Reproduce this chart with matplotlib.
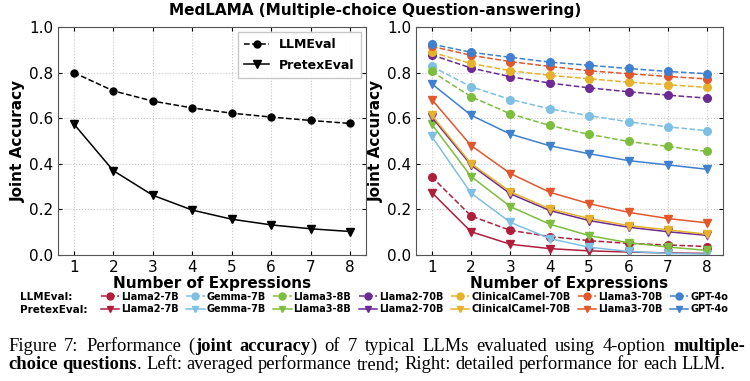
import numpy as np
import matplotlib.pyplot as plt
from matplotlib.lines import Line2D

# ---- data ----
n_expr = [1, 2, 3, 4, 5, 6, 7, 8]

avg_llmeval = [0.80, 0.72, 0.675, 0.645, 0.622, 0.605, 0.590, 0.577]
avg_pretex = [0.575, 0.370, 0.262, 0.197, 0.157, 0.132, 0.115, 0.103]

models = ["Llama2-7B", "Gemma-7B", "Llama3-8B", "Llama2-70B",
          "ClinicalCamel-70B", "Llama3-70B", "GPT-4o"]
colors = ["#B01E3C", "#7DC0E3", "#7DBE3E", "#6C2A92",
          "#E6B12B", "#E2572B", "#3F80CF"]

llmeval = {
    "Llama2-7B":         [0.343, 0.171, 0.108, 0.081, 0.063, 0.051, 0.044, 0.037],
    "Gemma-7B":          [0.827, 0.738, 0.682, 0.641, 0.611, 0.584, 0.562, 0.545],
    "Llama3-8B":         [0.805, 0.694, 0.619, 0.568, 0.529, 0.498, 0.476, 0.454],
    "Llama2-70B":        [0.878, 0.820, 0.782, 0.754, 0.733, 0.716, 0.701, 0.688],
    "ClinicalCamel-70B": [0.889, 0.840, 0.808, 0.788, 0.773, 0.758, 0.747, 0.735],
    "Llama3-70B":        [0.915, 0.876, 0.848, 0.827, 0.808, 0.795, 0.783, 0.772],
    "GPT-4o":            [0.925, 0.889, 0.867, 0.846, 0.832, 0.818, 0.805, 0.795],
}
pretexeval = {
    "Llama2-7B":         [0.274, 0.102, 0.047, 0.028, 0.018, 0.013, 0.009, 0.007],
    "Gemma-7B":          [0.520, 0.271, 0.143, 0.072, 0.034, 0.016, 0.007, 0.004],
    "Llama3-8B":         [0.574, 0.344, 0.212, 0.135, 0.085, 0.054, 0.035, 0.020],
    "Llama2-70B":        [0.605, 0.394, 0.268, 0.195, 0.151, 0.122, 0.102, 0.086],
    "ClinicalCamel-70B": [0.613, 0.401, 0.277, 0.202, 0.160, 0.129, 0.110, 0.091],
    "Llama3-70B":        [0.682, 0.480, 0.357, 0.275, 0.225, 0.187, 0.160, 0.141],
    "GPT-4o":            [0.751, 0.613, 0.530, 0.479, 0.444, 0.414, 0.395, 0.376],
}

# ---- figure ----
W, H = 750, 381
fig = plt.figure(figsize=(W / 100, H / 100), dpi=100)
ax1 = fig.add_axes([58 / W, 1 - 255 / H, 308 / W, 228 / H])
ax2 = fig.add_axes([416 / W, 1 - 255 / H, 307 / W, 228 / H])

ax1.plot(n_expr, avg_llmeval, "--o", color="black", lw=1.1, ms=5, label="LLMEval")
ax1.plot(n_expr, avg_pretex, "-v", color="black", lw=1.1, ms=5.5, label="PretexEval")
ax1.legend(loc="upper right", prop={"weight": "bold", "size": 9},
           fancybox=False, edgecolor="#bbbbbb", handlelength=2.0, borderpad=0.5,
           labelspacing=0.6, borderaxespad=0.4)

for m, c in zip(models, colors):
    ax2.plot(n_expr, llmeval[m], "--o", color=c, lw=1.1, ms=5.5)
    ax2.plot(n_expr, pretexeval[m], "-v", color=c, lw=1.1, ms=5.5)

for ax in (ax1, ax2):
    ax.set_xlim(0.6, 8.4)
    ax.set_ylim(0, 1.0)
    ax.set_xticks(n_expr)
    ax.set_yticks([0, 0.2, 0.4, 0.6, 0.8, 1.0])
    ax.grid(True, ls=":", color="#c8c8c8", lw=0.8)
    ax.tick_params(direction="in", labelsize=11, top=True, right=True, length=3)
    ax.set_xlabel("Number of Expressions", fontsize=11, fontweight="bold", labelpad=1)
    ax.set_ylabel("Joint Accuracy", fontsize=11, fontweight="bold", labelpad=2)
    for s in ax.spines.values():
        s.set_color("#555555")

fig.text(375 / W, 1 - 10 / H, "MedLAMA (Multiple-choice Question-answering)",
         ha="center", va="center", fontsize=11, fontweight="bold")

# ---- bottom legend ----
handles = []
for m, c in zip(models, colors):
    handles.append(Line2D([], [], color=c, ls="--", marker="o", lw=1.1, ms=5, label=m))
    handles.append(Line2D([], [], color=c, ls="-", marker="v", lw=1.1, ms=5, label=m))
fig.legend(handles=handles, ncol=7, loc="center left",
           bbox_to_anchor=(96 / W, 1 - 303 / H), frameon=False,
           prop={"weight": "bold", "size": 7}, handlelength=1.9,
           handletextpad=0.2, columnspacing=0.75, labelspacing=0.3, borderpad=0)
fig.text(20 / W, 1 - 297 / H, "LLMEval:", fontsize=7.5, fontweight="bold", va="center")
fig.text(20 / W, 1 - 310 / H, "PretexEval:", fontsize=7.5, fontweight="bold", va="center")

# ---- caption ----
fig.canvas.draw()
r = fig.canvas.get_renderer()


def caption_line(tokens, y, x0, x1=None, size=13.3):
    texts = []
    for s, w, sp in tokens:
        t = fig.text(0, 1 - y / H, s, fontsize=size, fontweight=w,
                     family="Liberation Serif", va="baseline")
        texts.append(t)
    widths = [t.get_window_extent(r).width for t in texts]
    probe = fig.text(0, 0, "a a", fontsize=size, family="Liberation Serif")
    probe2 = fig.text(0, 0, "aa", fontsize=size, family="Liberation Serif")
    space = probe.get_window_extent(r).width - probe2.get_window_extent(r).width
    probe.remove()
    probe2.remove()
    nsp = sum(1 for tk in tokens[:-1] if tk[2])
    gap = space if x1 is None else (x1 - x0 - sum(widths)) / nsp
    x = x0
    for t, w, tk in zip(texts, widths, tokens):
        t.set_x(x / W)
        x += w + (gap if tk[2] else 0)


line1 = [("Figure", "normal", True), ("7:", "normal", True), ("Performance", "normal", True),
         ("(", "normal", False), ("joint", "bold", True), ("accuracy", "bold", False),
         (")", "normal", True), ("of", "normal", True), ("7", "normal", True),
         ("typical", "normal", True), ("LLMs", "normal", True), ("evaluated", "normal", True),
         ("using", "normal", True), ("4-option", "normal", True), ("multiple-", "bold", False)]
line2 = [("choice", "bold", True), ("questions", "bold", False), (".", "normal", True),
         ("Left:", "normal", True), ("averaged", "normal", True), ("performance", "normal", True),
         ("trend;", "normal", True), ("Right:", "normal", True), ("detailed", "normal", True),
         ("performance", "normal", True), ("for", "normal", True), ("each", "normal", True),
         ("LLM.", "normal", False)]
caption_line(line1, 351, 8, 745)
caption_line(line2, 369, 8)

fig.savefig("out.png", dpi=100)
